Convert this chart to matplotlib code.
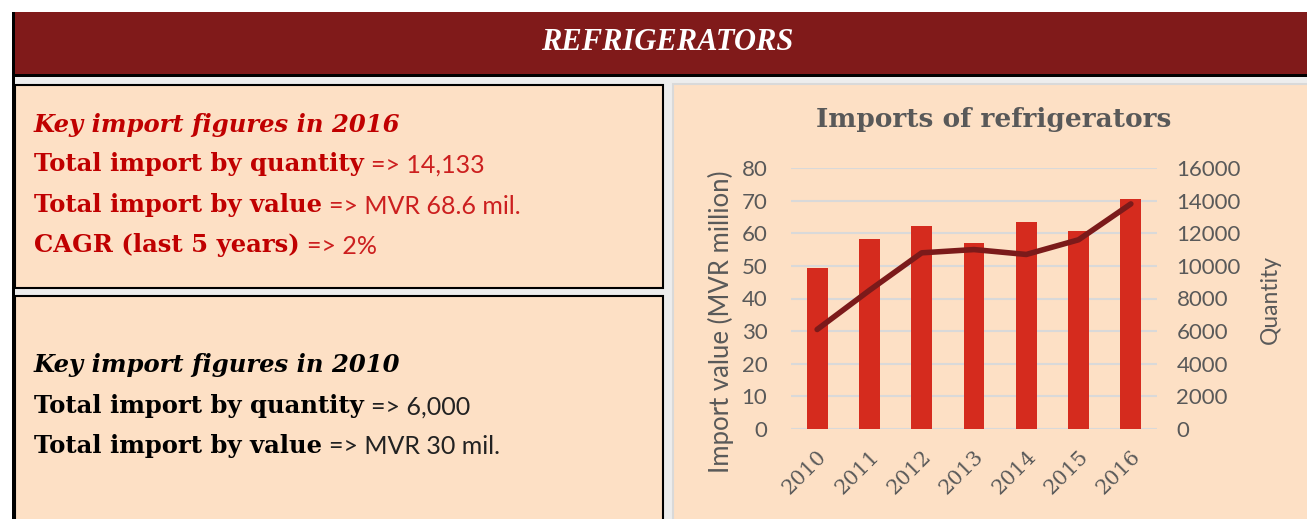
import matplotlib.pyplot as plt
from matplotlib.patches import Rectangle
import numpy as np

# ---------------------------------------------------------------
# data
# ---------------------------------------------------------------
years = ["2010", "2011", "2012", "2013", "2014", "2015", "2016"]
import_value = [49.4, 58.3, 62.3, 56.9, 63.4, 60.6, 70.5]   # MVR million
quantity = [6100, 8500, 10800, 11000, 10700, 11600, 13800]

box1_lines = [
    ("Key import figures in 2016", ""),
    ("Total import by quantity", "=> 14,133"),
    ("Total import by value", "=> MVR 68.6 mil."),
    ("CAGR (last 5 years)", "=> 2%"),
]
box2_lines = [
    ("Key import figures in 2010", ""),
    ("Total import by quantity", "=> 6,000"),
    ("Total import by value", "=> MVR 30 mil."),
]

# colours
peach = "#fde0c5"
header_red = "#801a1a"
bar_red = "#d52b1e"
line_red = "#7b1a1a"
text_red = "#c00000"
grey = "#595959"

W, H = 1307, 519
fig = plt.figure(figsize=(W / 100, H / 100), dpi=100)
fig.patch.set_facecolor("white")

# overlay axes in pixel coordinates
bg = fig.add_axes([0, 0, 1, 1])
bg.set_xlim(0, W)
bg.set_ylim(H, 0)
bg.axis("off")

bg.add_patch(Rectangle((14, 77), W - 14, H - 77, facecolor="#ededed", edgecolor="none"))
bg.add_patch(Rectangle((12, 12), W - 12, 63, facecolor=header_red, edgecolor="none"))
bg.add_patch(Rectangle((12, 74), W - 12, 3, facecolor="black", edgecolor="none"))
bg.add_patch(Rectangle((12, 12), 2.5, H - 12, facecolor="black", edgecolor="none"))
bg.add_patch(Rectangle((15, 85), 648, 203, facecolor=peach, edgecolor="black", lw=1.5))
bg.add_patch(Rectangle((15, 296), 648, 230, facecolor=peach, edgecolor="black", lw=1.5))
bg.add_patch(Rectangle((673, 84), 640, 440, facecolor=peach, edgecolor="#d9d9d9", lw=1.5))

bg.text(667, 43, "REFRIGERATORS", color="white", fontsize=22, fontweight="bold",
        fontstyle="italic", family="Liberation Serif", ha="center", va="center")

renderer = fig.canvas.get_renderer()


def write_box(lines, ys, color, light_color):
    for (bold, rest), y in zip(lines, ys):
        italic = rest == ""
        t = bg.text(34, y, bold, color=color, fontsize=17.5, fontweight="bold",
                    fontstyle="italic" if italic else "normal",
                    family="DejaVu Serif", ha="left", va="center")
        if rest:
            x1 = t.get_window_extent(renderer).x1
            bg.text(x1 + 7, y + 1, rest, color=light_color, fontsize=18,
                    family="Lato", ha="left", va="center")


write_box(box1_lines, [125, 164, 205, 245], text_red, "#cc1f1f")
write_box(box2_lines, [365, 406, 446], "black", "#222222")

# ---------------------------------------------------------------
# chart
# ---------------------------------------------------------------
left, right, top, bottom = 791, 1157, 168, 429
ax = fig.add_axes([left / W, 1 - bottom / H, (right - left) / W, (bottom - top) / H])
ax.set_facecolor("none")
x = np.arange(len(years))
ax.bar(x, import_value, width=0.4, color=bar_red, zorder=3)
ax.set_ylim(0, 80)
ax.set_xlim(-0.5, len(years) - 0.5)
ax.set_yticks(range(0, 81, 10))
ax.grid(axis="y", color="#d9d9d9", lw=1.5, zorder=0)
for s in ax.spines.values():
    s.set_visible(False)
ax.tick_params(length=0)
ax.tick_params(axis="y", labelsize=16, labelcolor=grey, pad=17)
for lab in ax.get_yticklabels():
    lab.set_family("Lato")
ax.set_xticks(x)
ax.set_xticklabels(years, rotation=45, ha="right", rotation_mode="anchor",
                   fontsize=15, color=grey, family="DejaVu Serif")
ax.tick_params(axis="x", pad=13)

ax2 = ax.twinx()
ax2.plot(x, quantity, color=line_red, lw=4, solid_capstyle="round", zorder=4)
ax2.set_ylim(0, 16000)
ax2.set_yticks(range(0, 16001, 2000))
for s in ax2.spines.values():
    s.set_visible(False)
ax2.tick_params(length=0, labelsize=16, labelcolor=grey, pad=14)
for lab in ax2.get_yticklabels():
    lab.set_family("Lato")

bg.text(994, 119, "Imports of refrigerators", color=grey, fontsize=19,
        fontweight="bold", family="DejaVu Serif", ha="center", va="center")
bg.text(721, 322, "Import value (MVR million)", color=grey, fontsize=18.5,
        family="Lato", rotation=90, ha="center", va="center")
bg.text(1270, 300, "Quantity", color=grey, fontsize=16.5,
        family="Lato", rotation=90, ha="center", va="center")

fig.savefig("out.png", dpi=100)
